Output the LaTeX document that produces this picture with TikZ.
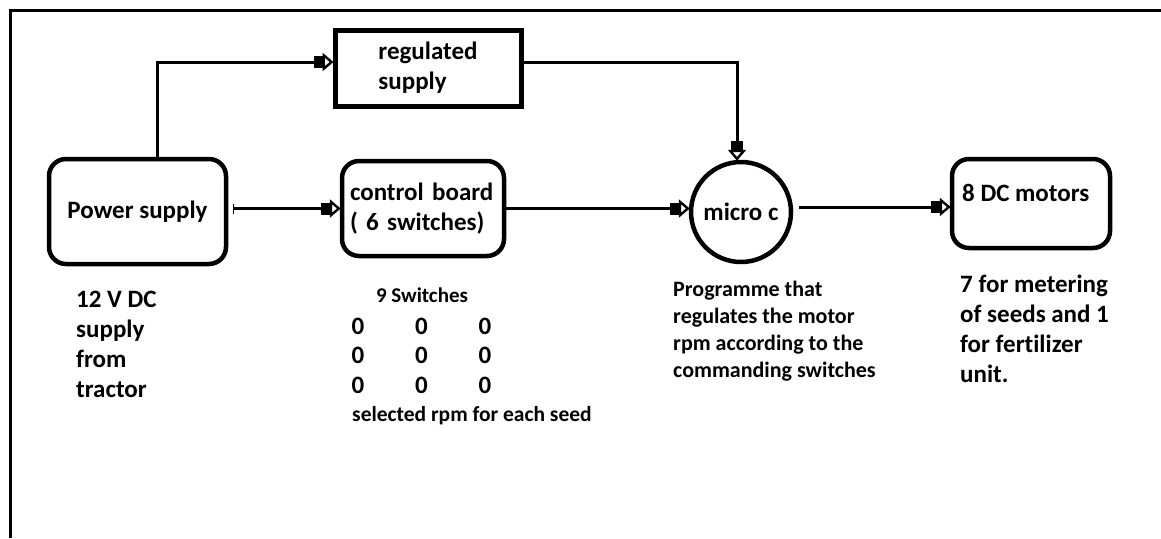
\documentclass[tikz,border=0pt]{standalone}
\usepackage{fontspec}
\setmainfont{Carlito}[Ligatures=NoCommon]
\usetikzlibrary{arrows.meta, calc, positioning}

\begin{document}
\begin{tikzpicture}[x=1pt,y=-1pt,
        blk/.style={draw, line width=5pt, align=left, inner sep=0pt, font=\bfseries\fontsize{25}{30}\selectfont},
        rblk/.style={blk, line width=4.5pt, rounded corners=17pt},
        conn/.style={line width=3pt, shorten >=-1pt, -{Rectangle[length=9pt,width=12pt]Triangle[open,length=11pt,width=18pt,line width=2.4pt]}},
        note/.style={align=left, inner sep=0pt, font=\bfseries\fontsize{25}{30}\selectfont}]
    \useasboundingbox (0,0) rectangle (1161,538);
    \draw[line width=3pt] (10,538) -- (10,10) -- (1161,10);
    \node[blk, minimum width=186pt, minimum height=76pt] (reg) at (428,68) {regulated\\supply};
    \node[rblk, minimum width=177pt, minimum height=105pt] (ps) at (137.5,211.5) {Power supply};
    \node[rblk, minimum width=162pt, minimum height=95pt, text width=146pt] (cb) at (423,208.5) {control board\\( 6 switches)};
    \node[circle, draw, line width=4.5pt, minimum size=100pt, inner sep=0pt, font=\bfseries\fontsize{25}{30}\selectfont] (mc) at (741,212) {micro c};
    \node[rblk, minimum width=158pt, minimum height=89pt] (dc) at (1031,203.5) {};
    \node[note, anchor=west] (dct) at (962,193) {8 DC motors};
    % connectors
    \draw[conn] ([xshift=19.5pt]ps.north) |- ([yshift=6pt]reg.west);
    \draw[conn] ([yshift=6pt]reg.east) -| ([xshift=-4pt]mc.north);
    \draw[conn, {Bar[width=10pt,line width=1pt]}-{Rectangle[length=9pt,width=12pt]Triangle[open,length=11pt,width=18pt,line width=2.4pt]}] ([xshift=5pt]ps.east |- cb.west) -- (cb.west);
    \draw[conn] (cb.east) -- (cb.east -| mc.west);
    \draw[conn] ([xshift=6pt,yshift=5pt]mc.east) -- ([yshift=5pt]mc.east -| dc.west);
    % notes
    \node[note, anchor=north west] (src) at (76,291) {12 V DC\\supply\\from\\tractor};
    \node[note, font=\bfseries\fontsize{21}{24}\selectfont] (sw) at (422,295) {9 Switches};
    \foreach \r in {0,1,2}
        \foreach \c in {0,1,2}
            \node[note] (z\r\c) at (358+63.5*\c,326+29.5*\r) {0};
    \node[note, anchor=west, font=\bfseries\fontsize{21.5}{24}\selectfont] (rpm) at (352,416) {selected rpm for each seed};
    \node[note, anchor=north west, font=\bfseries\fontsize{22}{27}\selectfont] (prog) at (673,281) {Programme that\\regulates the motor\\rpm according to the\\commanding switches};
    \node[note, anchor=north west] (mot) at (960,275) {7 for metering\\of seeds and 1\\for fertilizer\\unit.};
\end{tikzpicture}
\end{document}
